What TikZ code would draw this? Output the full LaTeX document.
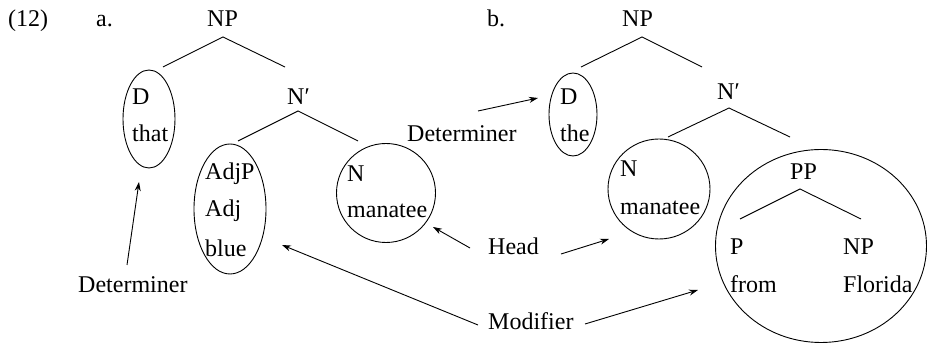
\documentclass[tikz,border=0pt]{standalone}
\usepackage{fontspec}
\setmainfont{Liberation Serif}
\usetikzlibrary{shapes.geometric,arrows.meta}
\begin{document}
\begin{tikzpicture}[x=1pt,y=-1pt,
  lbl/.style={anchor=base west,inner sep=0pt,font=\fontsize{24}{28}\selectfont},
  ring/.style={draw,ellipse,inner sep=0pt,line width=0.9pt},
  branch/.style={line width=0.9pt},
  arr/.style={line width=0.9pt,-{Stealth[length=9pt,width=6pt]}}]
\useasboundingbox (0,0) rectangle (927,344);
% headers
\node[lbl] (ex) at (8,27) {(12)};
\node[lbl] (la) at (96,27) {a.};
\node[lbl] (lb) at (487,27) {b.};
% tree a
\node[lbl] (NPa) at (207,27) {NP};
\node[lbl] (Da) at (132,105) {D};
\node[lbl] (thata) at (132,142) {that};
\node[lbl] (Nba) at (287,105) {N′};
\node[lbl] (AdjP) at (205,180) {AdjP};
\node[lbl] (Adj) at (205,217) {Adj};
\node[lbl] (blue) at (205,257) {blue};
\node[lbl] (Na) at (347,182) {N};
\node[lbl] (mana) at (347,218) {manatee};
\node[ring,minimum width=52pt,minimum height=98pt] (Della) at (149,119) {};
\node[ring,minimum width=72pt,minimum height=130pt] (AdjElla) at (230,209) {};
\node[ring,minimum width=99pt,minimum height=99pt] (NElla) at (386,193) {};
\coordinate (NPaT) at (223,37);
\coordinate (NPaL) at (163,67);
\coordinate (NPaR) at (285,67);
\coordinate (NbaT) at (298,111);
\coordinate (NbaL) at (238,141);
\coordinate (NbaR) at (358,141);
\draw[branch] (NPaL) -- (NPaT) -- (NPaR);
\draw[branch] (NbaL) -- (NbaT) -- (NbaR);
% tree b
\node[lbl] (NPb) at (622,27) {NP};
\node[lbl] (Db) at (560,105) {D};
\node[lbl] (theb) at (560,142) {the};
\node[lbl] (Nbb) at (717,100) {N′};
\node[lbl] (Nb) at (620,177) {N};
\node[lbl] (manb) at (620,215) {manatee};
\node[lbl] (PP) at (790,180) {PP};
\node[lbl] (P) at (730,255) {P};
\node[lbl] (from) at (730,293) {from};
\node[lbl] (NPc) at (843,255) {NP};
\node[lbl] (Florida) at (843,293) {Florida};
\node[ring,minimum width=48pt,minimum height=83pt] (Dellb) at (573,114.5) {};
\node[ring,minimum width=102pt,minimum height=100pt] (NEllb) at (659,189) {};
\node[ring,minimum width=211pt,minimum height=193pt] (PPEll) at (821,246) {};
\coordinate (NPbT) at (642,37);
\coordinate (NPbL) at (581,67);
\coordinate (NPbR) at (702,67);
\coordinate (NbbT) at (729,108);
\coordinate (NbbL) at (668,137);
\coordinate (NbbR) at (790,137);
\coordinate (PPT) at (800,189);
\coordinate (PPL) at (740,219);
\coordinate (PPR) at (861,219);
\draw[branch] (NPbL) -- (NPbT) -- (NPbR);
\draw[branch] (NbbL) -- (NbbT) -- (NbbR);
\draw[branch] (PPL) -- (PPT) -- (PPR);
% labels
\node[lbl] (DetA) at (78,293) {Determiner};
\node[lbl] (DetB) at (407,142) {Determiner};
\node[lbl] (Head) at (488,255) {Head};
\node[lbl] (Mod) at (488,330) {Modifier};
% arrow endpoints
\coordinate (dA0) at (127,265);
\coordinate (dA1) at (139,182);
\coordinate (mA0) at (478,325);
\coordinate (mA1) at (282,245);
\coordinate (hA0) at (470,248);
\coordinate (hA1) at (433,227);
\coordinate (dB0) at (478,111);
\coordinate (dB1) at (538,98);
\coordinate (hB0) at (561,254);
\coordinate (hB1) at (609,239);
\coordinate (mB0) at (585,324);
\coordinate (mB1) at (698,290);
\draw[arr] (dA0) -- (dA1);
\draw[arr] (mA0) -- (mA1);
\draw[arr] (hA0) -- (hA1);
\draw[arr] (dB0) -- (dB1);
\draw[arr] (hB0) -- (hB1);
\draw[arr] (mB0) -- (mB1);
\end{tikzpicture}
\end{document}
